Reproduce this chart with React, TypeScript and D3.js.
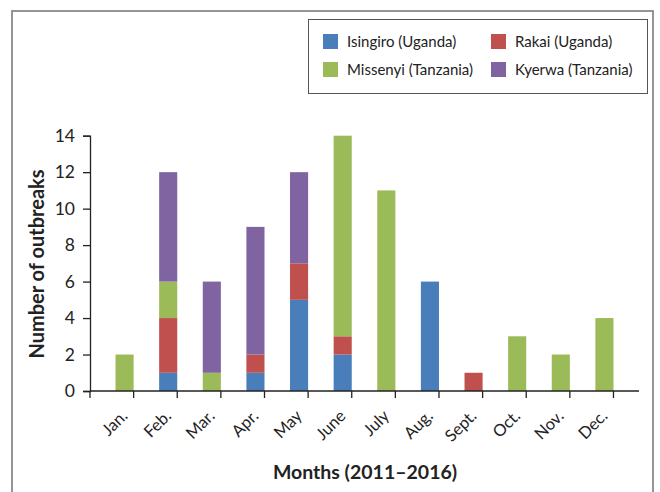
import React, { useEffect, useRef } from "react";
import * as d3 from "d3";

const months = ["Jan.", "Feb.", "Mar.", "Apr.", "May", "June", "July", "Aug.", "Sept.", "Oct.", "Nov.", "Dec."];
const seriesNames = ["Isingiro (Uganda)", "Rakai (Uganda)", "Missenyi (Tanzania)", "Kyerwa (Tanzania)"];
const seriesColors = ["#4a7ebb", "#c0504d", "#9bbb59", "#8064a2"];

// outbreaks per month, one array per district
const isingiro = [0, 1, 0, 1, 5, 2, 0, 6, 0, 0, 0, 0];
const rakai = [0, 3, 0, 1, 2, 1, 0, 0, 1, 0, 0, 0];
const missenyi = [2, 2, 1, 0, 0, 11, 11, 0, 0, 3, 2, 4];
const kyerwa = [0, 6, 5, 7, 5, 0, 0, 0, 0, 0, 0, 0];

const yTicks = [0, 2, 4, 6, 8, 10, 12, 14];

const FONT = "Lato, 'Open Sans', sans-serif";

function App() {
  const ref = useRef<SVGSVGElement>(null);

  useEffect(() => {
    const svg = d3.select(ref.current);
    svg.selectAll("*").remove();

    const left = 90, right = 639, top = 135.7, bottom = 391;

    // outer frame
    svg.append("rect")
      .attr("x", 12).attr("y", 11)
      .attr("width", 641).attr("height", 500)
      .attr("fill", "#fff")
      .attr("stroke", "#8a8a8a")
      .attr("stroke-width", 1.8);

    const rows = months.map((m, i) => ({
      month: m,
      [seriesNames[0]]: isingiro[i],
      [seriesNames[1]]: rakai[i],
      [seriesNames[2]]: missenyi[i],
      [seriesNames[3]]: kyerwa[i],
    }));

    const stack = d3.stack<any>().keys(seriesNames);
    const layers = stack(rows);

    const x = d3.scaleBand().domain(months).range([left, right]).padding(0.585);
    const y = d3.scaleLinear().domain([0, 14]).range([bottom, top]);

    const g = svg.append("g");
    layers.forEach((layer, li) => {
      g.selectAll(null)
        .data(layer.filter((d) => d[1] - d[0] > 0))
        .enter()
        .append("rect")
        .attr("x", (d: any) => x(d.data.month)!)
        .attr("y", (d) => y(d[1]))
        .attr("width", x.bandwidth())
        .attr("height", (d) => y(d[0]) - y(d[1]))
        .attr("fill", seriesColors[li]);
    });

    // y axis
    const yAxis = svg.append("g")
      .attr("transform", `translate(${left},0)`)
      .call(d3.axisLeft(y).tickValues(yTicks).tickSize(7).tickPadding(8));
    yAxis.select(".domain").attr("stroke", "#222").attr("stroke-width", 1.3);
    yAxis.selectAll(".tick line").attr("stroke", "#222").attr("stroke-width", 1.3);
    yAxis.selectAll("text")
      .attr("font-family", FONT)
      .attr("font-size", 17.5)
      .attr("fill", "#222");

    // x axis, ticks at band edges
    const xAxis = svg.append("g").attr("transform", `translate(0,${bottom})`);
    xAxis.append("line")
      .attr("x1", left).attr("x2", right)
      .attr("stroke", "#222").attr("stroke-width", 1.3);
    const step = x.step();
    d3.range(13).forEach((i) => {
      xAxis.append("line")
        .attr("x1", left + i * step).attr("x2", left + i * step)
        .attr("y1", 0).attr("y2", 7)
        .attr("stroke", "#222").attr("stroke-width", 1.3);
    });
    xAxis.selectAll(".mlabel")
      .data(months)
      .enter()
      .append("text")
      .attr("class", "mlabel")
      .attr("transform", (d) => `translate(${x(d)! + x.bandwidth() / 2 + 4},${26}) rotate(-45)`)
      .attr("text-anchor", "end")
      .attr("font-family", FONT)
      .attr("font-size", 16.5)
      .attr("fill", "#222")
      .text((d) => d);

    // axis titles
    svg.append("text")
      .attr("x", 365).attr("y", 479)
      .attr("text-anchor", "middle")
      .attr("font-family", FONT)
      .attr("font-weight", "bold")
      .attr("font-size", 19.5)
      .attr("fill", "#222")
      .text("Months (2011–2016)");

    svg.append("text")
      .attr("transform", `translate(44,264) rotate(-90)`)
      .attr("text-anchor", "middle")
      .attr("font-family", FONT)
      .attr("font-weight", "bold")
      .attr("font-size", 20)
      .attr("fill", "#222")
      .text("Number of outbreaks");

    // legend
    const legend = svg.append("g");
    legend.append("rect")
      .attr("x", 308.5).attr("y", 19.5)
      .attr("width", 339).attr("height", 74)
      .attr("fill", "#fff")
      .attr("stroke", "#555")
      .attr("stroke-width", 1);
    const legendPos = [
      [323, 34], [491, 34], [323, 62], [491, 62],
    ];
    seriesNames.forEach((name, i) => {
      const [lx, ly] = legendPos[i];
      legend.append("rect")
        .attr("x", lx).attr("y", ly)
        .attr("width", 15).attr("height", 15)
        .attr("fill", seriesColors[i]);
      legend.append("text")
        .attr("x", lx + 24).attr("y", ly + 13)
        .attr("font-family", FONT)
        .attr("font-size", 15)
        .attr("fill", "#222")
        .text(name);
    });
  }, []);

  return (
    <svg
      ref={ref}
      width={660}
      height={492}
      style={{ position: "absolute", left: 0, top: 0, background: "#fff" }}
    />
  );
}

export default App;
